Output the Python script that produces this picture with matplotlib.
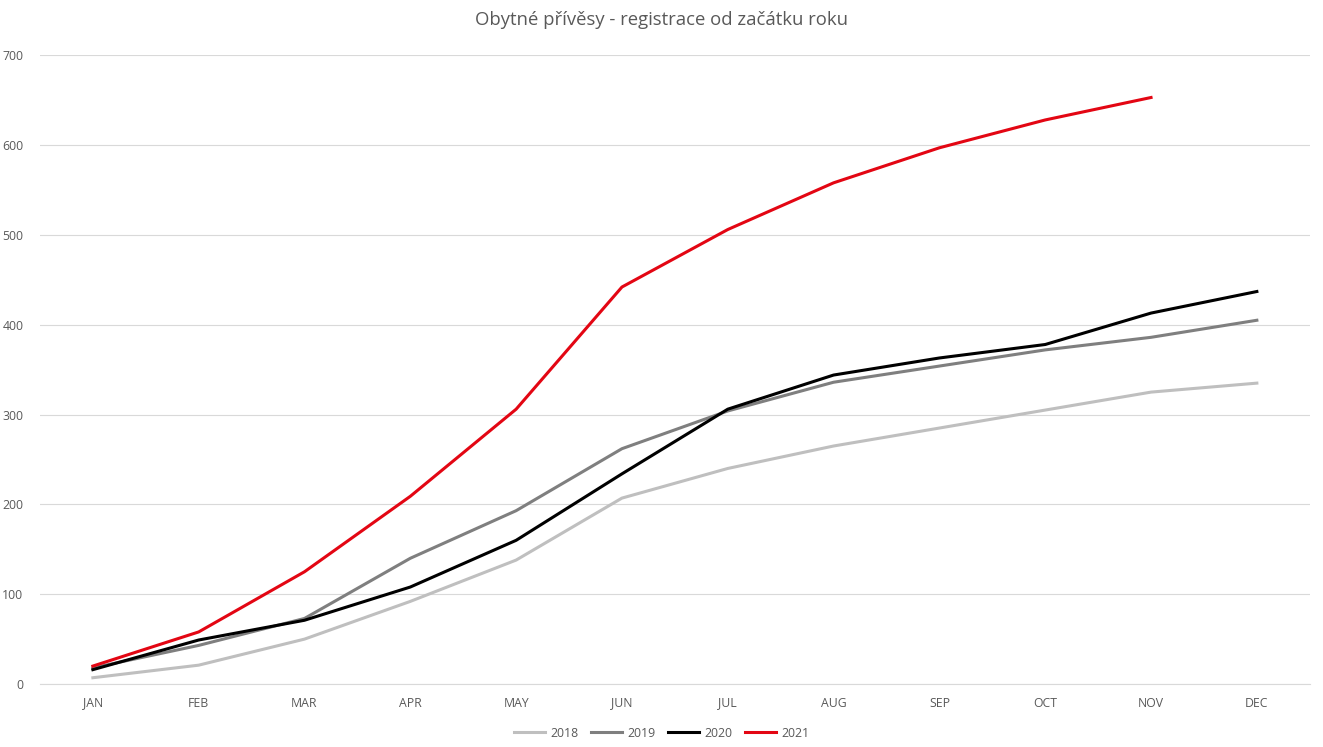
import matplotlib.pyplot as plt
import numpy as np

months = ["JAN", "FEB", "MAR", "APR", "MAY", "JUN", "JUL", "AUG", "SEP", "OCT", "NOV", "DEC"]
y2018 = [7, 21, 50, 92, 138, 207, 240, 265, 285, 305, 325, 335]
y2019 = [18, 43, 73, 140, 193, 262, 304, 336, 354, 372, 386, 405]
y2020 = [16, 49, 71, 108, 160, 234, 306, 344, 363, 378, 413, 437]
y2021 = [20, 58, 125, 209, 306, 442, 506, 558, 597, 628, 653]

plt.rcParams['font.family'] = ['Open Sans', 'DejaVu Sans']

fig = plt.figure(figsize=(13.23, 7.47), dpi=100)
ax = fig.add_axes([0.0302, 0.0843, 0.9598, 0.8417])

x = np.arange(len(months))
ax.plot(x, y2018, color='#BFBFBF', lw=2.2, label='2018')
ax.plot(x, y2019, color='#7F7F7F', lw=2.2, label='2019')
ax.plot(x, y2020, color='#000000', lw=2.2, label='2020')
ax.plot(np.arange(len(y2021)), y2021, color='#E30613', lw=2.2, label='2021')

ax.set_xlim(-0.5, 11.5)
ax.set_ylim(0, 700)
ax.set_yticks(range(0, 701, 100))
ax.set_xticks(x)
ax.set_xticklabels(months)
ax.grid(axis='y', color='#D9D9D9', lw=0.8)
ax.set_axisbelow(True)
for s in ['top', 'right', 'left']:
    ax.spines[s].set_visible(False)
ax.spines['bottom'].set_color('#D9D9D9')
ax.tick_params(length=0, labelsize=8.8, colors='#595959')
ax.tick_params(axis='x', pad=9)
ax.tick_params(axis='y', pad=12)

fig.suptitle("Obytné přívěsy - registrace od začátku roku", fontsize=13.3, color='#595959', y=0.985)
fig.legend(loc='lower center', ncol=4, frameon=False, fontsize=8.8, labelcolor='#595959',
           bbox_to_anchor=(0.5, -0.005), handlelength=2.6, columnspacing=1.0, handletextpad=0.4)

fig.savefig('out.png', dpi=100)
